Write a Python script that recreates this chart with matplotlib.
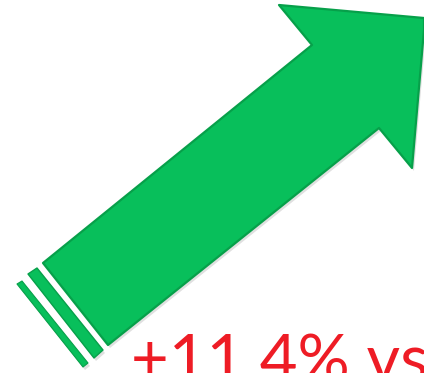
import matplotlib
matplotlib.use("Agg")
import matplotlib.pyplot as plt
from matplotlib.patches import Polygon

# Shape vertices in pixel space (x, y from top-left)
arrow_x = [43, 312, 279, 424, 424, 412, 379, 108]
arrow_y = [263, 45, 5, 18, 30, 168, 128, 345]
stripe1_x = [28, 37, 103, 94]
stripe1_y = [274, 268, 350, 358]
stripe2_x = [17, 22, 88, 83]
stripe2_y = [284, 281, 363, 367]

label_text = "+11.4% vs"
label_x = 131
label_y = 333

green = "#08bf5b"
edge = "#07a04a"
red = "#ee1c25"

fig = plt.figure(figsize=(4.24, 3.73), dpi=100)
ax = fig.add_axes([0, 0, 1, 1])
ax.set_xlim(0, 424)
ax.set_ylim(373, 0)
ax.axis("off")

def shape(xs, ys, lw=1.2, z=2):
    pts = list(zip(xs, ys))
    sh = [(x + 2, y + 3) for x, y in pts]
    ax.add_patch(Polygon(sh, closed=True, facecolor="#000000", alpha=0.12,
                         edgecolor="none", zorder=z - 1))
    ax.add_patch(Polygon(pts, closed=True, facecolor=green, edgecolor=edge,
                         linewidth=lw, joinstyle="round", zorder=z))

shape(arrow_x, arrow_y, lw=1.6)
shape(stripe1_x, stripe1_y, lw=1.0)
shape(stripe2_x, stripe2_y, lw=0.8)

ax.text(label_x, label_y, label_text, color=red, fontsize=47,
        family=["Lato", "DejaVu Sans"], fontweight="normal",
        ha="left", va="top", zorder=5)

fig.savefig("out.png", dpi=100)
